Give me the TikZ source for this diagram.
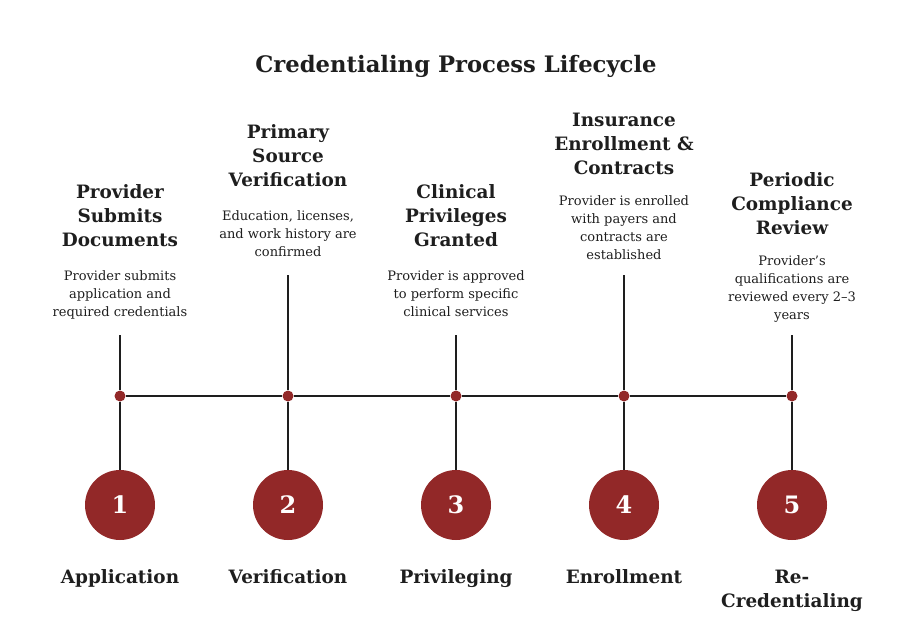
\documentclass[tikz,border=0pt]{standalone}
\usepackage{fontspec}
\setmainfont{DejaVu Serif}
\definecolor{stepred}{RGB}{146,40,40}
\definecolor{ink}{RGB}{30,30,30}
\tikzset{
	dot/.style={circle,fill=stepred,inner sep=0pt,minimum size=11pt},
	badge/.style={circle,fill=stepred,inner sep=0pt,minimum size=70pt,text=white,font=\bfseries\fontsize{24}{28}\selectfont},
	heading/.style={align=center,text=ink,inner sep=0pt,anchor=north,font=\bfseries\fontsize{18.4}{24}\selectfont},
	blurb/.style={align=center,text=ink,inner sep=0pt,anchor=north,font=\fontsize{13}{18}\selectfont},
	phase/.style={align=center,text=ink,inner sep=0pt,anchor=north,font=\bfseries\fontsize{18.4}{24}\selectfont},
	link/.style={draw=ink,line width=2.2pt}
}
\begin{document}
\begin{tikzpicture}[x=1pt,y=-1pt]
		\useasboundingbox (0,0) rectangle (912,627);
		\node[text=ink,font=\bfseries\fontsize{22.7}{28}\selectfont] (title) at (456,66) {Credentialing Process Lifecycle};
		\foreach \i/\x/\top/\hy/\dy/\head/\desc/\name in {
			1/120/335/192/276/{Provider\\Submits\\Documents}/{Provider submits\\application and\\required credentials}/{Application},
			2/288/275/132/216/{Primary\\Source\\Verification}/{Education, licenses,\\and work history are\\confirmed}/{Verification},
			3/456/335/192/276/{Clinical\\Privileges\\Granted}/{Provider is approved\\to perform specific\\clinical services}/{Privileging},
			4/624/275/120/201/{Insurance\\Enrollment \&\\Contracts}/{Provider is enrolled\\with payers and\\contracts are\\established}/{Enrollment},
			5/792/335/180/261/{Periodic\\Compliance\\Review}/{Provider's\\qualifications are\\reviewed every 2–3\\years}/{Re-\\Credentialing}}
		{
			\node[dot] (d\i) at (\x,396) {};
			\node[badge] (c\i) at (\x,505) {\i};
			\coordinate (t\i) at (\x,\top);
			\node[heading] (h\i) at (\x,\hy-7.5) {\head};
			\node[blurb] (b\i) at (\x,\dy-5.5) {\desc};
			\node[phase] (p\i) at (\x,569.5) {\name};
			\draw[link] (t\i) -- (d\i);
			\draw[link] (d\i) -- (c\i);
		}
		\draw[link] (d1) -- (d2) -- (d3) -- (d4) -- (d5);
	\end{tikzpicture}
\end{document}
